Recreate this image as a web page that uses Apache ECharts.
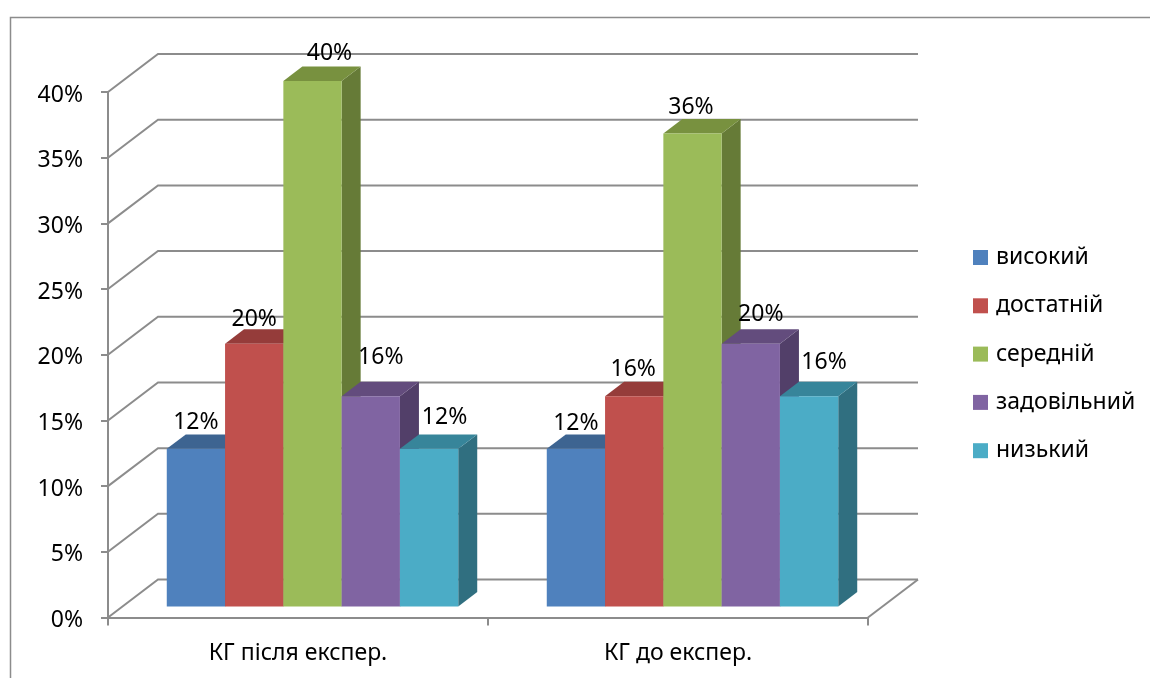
<!DOCTYPE html>
<html>
<head>
<meta charset="utf-8">
<script src="https://cdn.jsdelivr.net/npm/echarts@6/dist/echarts.min.js"></script>
<style>
  html, body { margin: 0; padding: 0; background: #fff; }
  #chart { width: 1150px; height: 678px; }
</style>
</head>
<body>
<div id="chart"></div>
<script>
// Group labels (x axis) and achievement levels (series)
const categories = ['КГ після експер.', 'КГ до експер.'];
const levels = ['високий', 'достатній', 'середній', 'задовільний', 'низький'];

// Share of pupils per level, %, one value per group
const vysokyi    = [12, 12];
const dostatnii  = [20, 16];
const serednii   = [40, 36];
const zadovilnyi = [16, 20];
const nyzkyi     = [12, 16];

// Value axis ticks, %
const yTicks = [0, 5, 10, 15, 20, 25, 30, 35, 40];

const seriesValues = [vysokyi, dostatnii, serednii, zadovilnyi, nyzkyi];

// Face colours of the prism columns: front, top, side
const frontColors = ['#4F81BD', '#C0504D', '#9BBB59', '#8064A2', '#4BACC6'];
const topColors   = ['#3D6491', '#953C3A', '#78913F', '#634C7D', '#37859A'];
const sideColors  = ['#34557C', '#7F3331', '#667B37', '#523F69', '#306F80'];

// Oblique projection: receding depth of the floor, in px (dx, dy)
const DEPTH = [50, -38];
const BAR_FRONT = 0.29;   // columns start this far back on the floor
const BAR_DEPTH = 0.38;   // column thickness as a share of the floor depth
const GROUP_FILL = 0.767; // share of a category band filled by its columns

// Data label nudges (dx, dy) from the column's front-top centre, per level per group
const labelShift = [
  [[0, -27.5], [0, -27]],
  [[0, -26], [-1, -28.5]],
  [[17, -29.5], [-1.5, -28]],
  [[10, -40], [10, -31]],
  [[15.5, -33], [15, -35]]
];

const LINE = '#8c8c8c';
const FONT = 'Noto Sans';
const FS = 23;

function gridWall(params, api) {
  const cs = params.coordSys;
  const v = api.value(1);
  const yf = api.coord([0, v])[1];
  const children = [{
    type: 'polyline',
    shape: { points: [[cs.x, yf], [cs.x + DEPTH[0], yf + DEPTH[1]], [cs.x + cs.width + DEPTH[0], yf + DEPTH[1]]] },
    style: { stroke: LINE, lineWidth: 2, fill: null }
  }];
  if (v === 0) {
    children.push({
      type: 'line',
      shape: { x1: cs.x + cs.width, y1: yf, x2: cs.x + cs.width + DEPTH[0], y2: yf + DEPTH[1] },
      style: { stroke: LINE, lineWidth: 2 }
    });
  }
  return { type: 'group', children };
}

function columnRenderer(s) {
  return function (params, api) {
    const cat = api.value(0);
    const val = api.value(1);
    const base = api.coord([cat, 0]);
    const top = api.coord([cat, val]);
    const band = api.size([1, 0])[0];
    const w = band * GROUP_FILL / levels.length;
    const ox = DEPTH[0] * BAR_FRONT, oy = DEPTH[1] * BAR_FRONT;
    const dx = DEPTH[0] * BAR_DEPTH, dy = DEPTH[1] * BAR_DEPTH;
    const x0 = base[0] - band * GROUP_FILL / 2 + s * w + ox;
    const x1 = x0 + w;
    const yb = base[1] + oy;
    const yt = top[1] + oy;
    const sh = labelShift[s][cat];
    return {
      type: 'group',
      children: [
        { type: 'polygon', shape: { points: [[x1, yt], [x1 + dx, yt + dy], [x1 + dx, yb + dy], [x1, yb]] },
          style: { fill: sideColors[s] } },
        { type: 'polygon', shape: { points: [[x0, yt], [x0 + dx, yt + dy], [x1 + dx, yt + dy], [x1, yt]] },
          style: { fill: topColors[s] } },
        { type: 'rect', shape: { x: x0, y: yt, width: w, height: yb - yt },
          style: { fill: frontColors[s] } },
        { type: 'text', z2: 100,
          style: { text: val + '%', x: x0 + w / 2 + sh[0], y: yt + sh[1] + 1.5,
                   align: 'center', verticalAlign: 'middle',
                   fill: '#000', fontSize: FS, fontFamily: FONT } }
      ]
    };
  };
}

const chart = echarts.init(document.getElementById('chart'), null, { renderer: 'canvas' });

const series = [{
  type: 'custom',
  name: 'grid',
  z: 1,
  silent: true,
  renderItem: gridWall,
  encode: { x: 0, y: 1 },
  data: yTicks.map(v => [0, v])
}];

levels.forEach((name, s) => {
  series.push({
    type: 'custom',
    name: name,
    z: 2,
    itemStyle: { color: frontColors[s] },
    renderItem: columnRenderer(s),
    encode: { x: 0, y: 1 },
    data: seriesValues[s].map((v, i) => [i, v])
  });
});

chart.setOption({
  animation: false,
  backgroundColor: '#fff',
  textStyle: { fontFamily: FONT },
  grid: { left: 108, top: 92, width: 760, height: 525.5, outerBoundsMode: 'none' },
  xAxis: {
    type: 'category',
    data: categories,
    boundaryGap: true,
    axisLine: { show: true, lineStyle: { color: LINE, width: 2 } },
    axisTick: { show: true, length: 8, lineStyle: { color: LINE, width: 2 } },
    axisLabel: { margin: 24, fontSize: FS, color: '#000', fontFamily: FONT },
    splitLine: { show: false }
  },
  yAxis: {
    type: 'value',
    min: 0,
    max: 40,
    interval: 5,
    axisLine: { show: true, lineStyle: { color: LINE, width: 2 } },
    axisTick: { show: true, length: 7, lineStyle: { color: LINE, width: 2 } },
    axisLabel: {
      formatter: v => '{p|' + v + '%}',
      margin: 25, color: '#000',
      rich: { p: { fontSize: FS, color: '#000', fontFamily: FONT, padding: [6, 0, 0, 0] } }
    },
    splitLine: { show: false }
  },
  legend: {
    data: levels,
    orient: 'vertical',
    left: 973,
    top: 246,
    padding: 0,
    icon: 'rect',
    itemWidth: 15,
    itemHeight: 15,
    itemGap: 25.3,
    textStyle: { fontSize: FS, color: '#000', fontFamily: FONT, padding: [0, 0, 0, 3] }
  },
  graphic: [{
    type: 'polyline',
    silent: true,
    shape: { points: [[10.5, 680], [10.5, 17.5], [1152, 17.5]] },
    style: { stroke: LINE, lineWidth: 1.5, fill: null }
  }],
  series: series
});
</script>
</body>
</html>
